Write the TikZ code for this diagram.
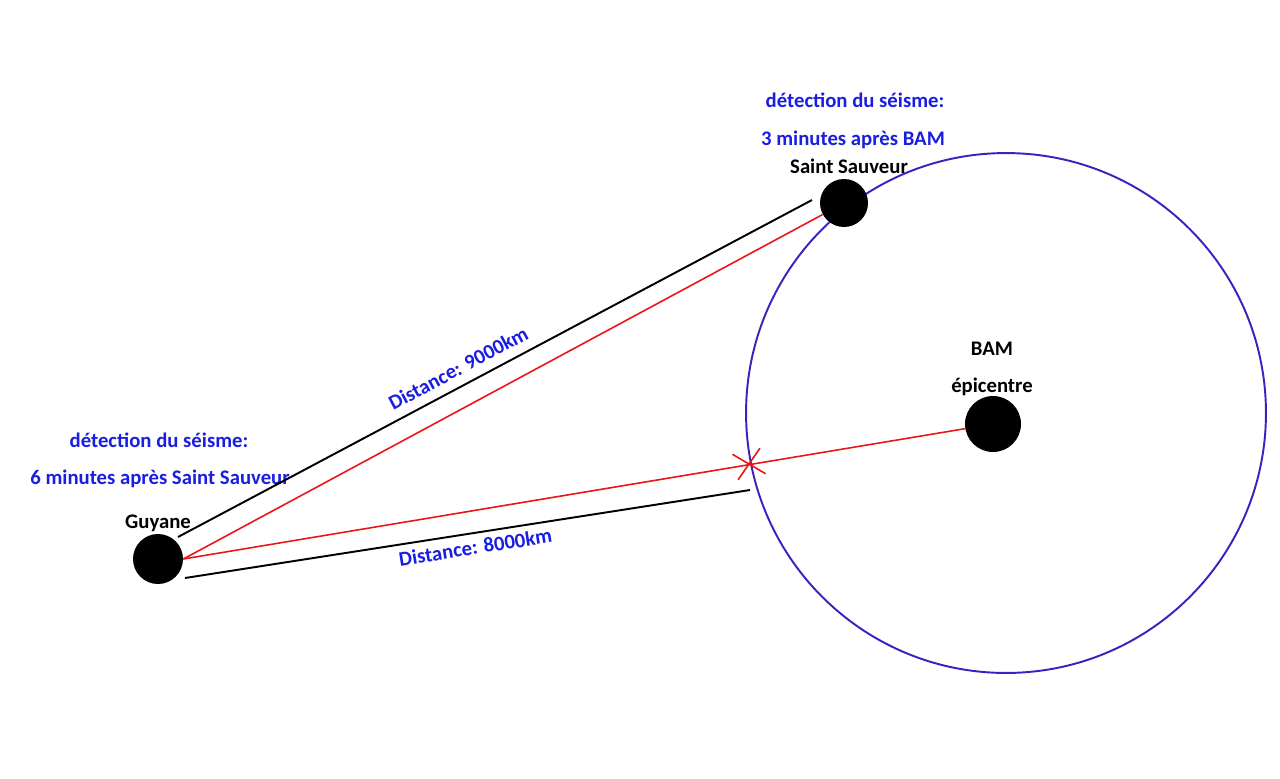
\documentclass[tikz,border=0pt]{standalone}
\usepackage{fontspec}
\setmainfont{Carlito}
\usetikzlibrary{shapes.misc}
\definecolor{infoblue}{RGB}{25,30,225}
\definecolor{zoneblue}{RGB}{65,30,190}
\definecolor{rayred}{RGB}{235,20,20}

\begin{document}
\begin{tikzpicture}[
    x=0.02cm, y=-0.02cm,
    font=\fontsize{11.8}{14}\selectfont\bfseries,
    station/.style={circle, fill=black, inner sep=0pt, minimum size=#1},
    station/.default=1cm,
    placename/.style={anchor=base, text=black},
    detect/.style={anchor=base, text=infoblue},
    dist/.style={draw, line width=1.1pt},
    ray/.style={draw=rayred, line width=0.9pt}
]
\useasboundingbox (0,0) rectangle (1280,778);

% Zone around the epicentre
\node[draw=zoneblue, line width=1.1pt, circle, inner sep=0pt, minimum size=10.4cm] (zone) at (1006,413) {};

% Stations
\node[station] (guyane) at (158,559) {};
\node[station=0.96cm] (sauveur) at (844,203) {};
\node[station=1.12cm] (bam) at (993,424) {};

% Labels
\node[detect] (det-top) at (855,107) {détection du séisme:};
\node[detect] (time-top) at (853,145) {3 minutes après BAM};
\node[placename] (name-sauveur) at (849,173) {Saint Sauveur};
\node[detect] (det-left) at (159,447) {détection du séisme:};
\node[detect] (time-left) at (160,484) {6 minutes après Saint Sauveur};
\node[placename] (name-guyane) at (158,528) {Guyane};
\node[placename] (name-bam) at (992,355) {BAM};
\node[placename] (name-epi) at (992,392) {épicentre};

% Distances
\coordinate (g-top) at (178,537);
\coordinate (s-top) at (812,200);
\coordinate (g-low) at (185,578);
\coordinate (e-low) at (750,490);
\draw[dist] (g-top) -- node[sloped, above=2pt, pos=0.455, text=infoblue] (d-9000) {Distance: 9000km} (s-top);
\draw[dist] (g-low) -- node[sloped, below=0pt, pos=0.51, text=infoblue] (d-8000) {Distance: 8000km} (e-low);

% Rays
\draw[ray] (guyane.east) -- (sauveur);
\draw[ray] (guyane.east) -- (bam);
\node[cross out, draw=rayred, line width=0.9pt, inner sep=0pt, minimum width=0.53cm, minimum height=0.49cm, rotate=12.5] (impact) at (749,464) {};

\end{tikzpicture}
\end{document}
